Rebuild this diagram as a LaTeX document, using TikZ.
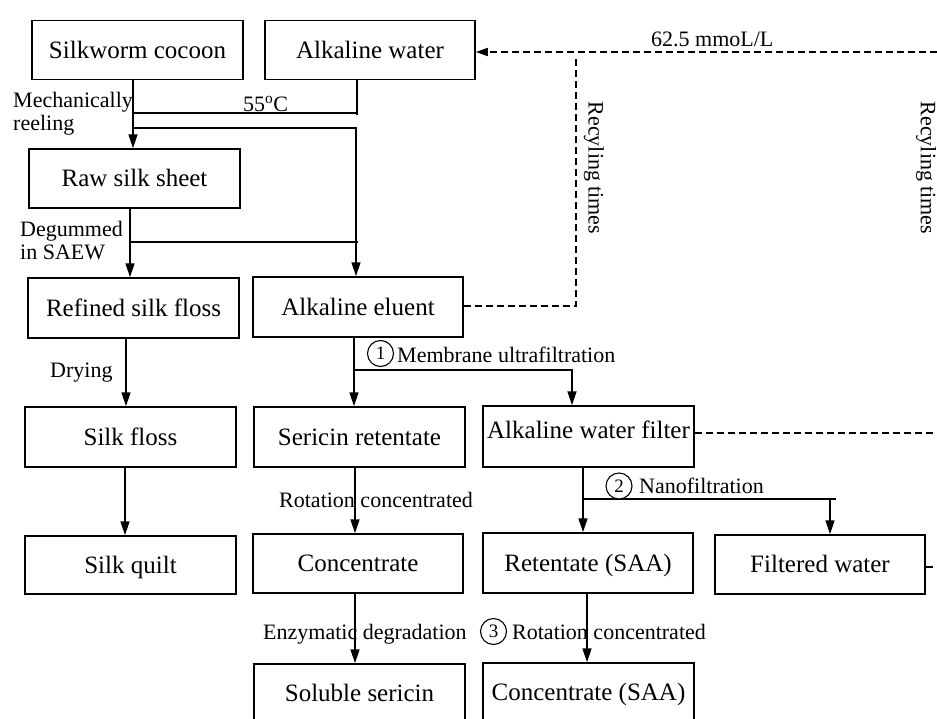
\documentclass[tikz,border=0pt]{standalone}
\usepackage{fontspec}
\setmainfont{Liberation Serif}
\usetikzlibrary{arrows.meta}
\begin{document}
\begin{tikzpicture}[x=1pt,y=-1pt,
 box/.style={draw,line width=1.5pt,inner sep=0pt,minimum width=211pt,minimum height=59pt,text height=18pt,text depth=2pt,font=\fontsize{25}{30}\selectfont},
 lbl/.style={inner sep=0pt,anchor=base west,font=\fontsize{22}{24}\selectfont},
 arr/.style={line width=1.5pt,-{Triangle[length=14pt,width=9pt]}},
 ln/.style={line width=1.5pt},
 dsh/.style={line width=1.5pt,dash pattern=on 7pt off 4pt},
 num/.style={circle,draw,line width=1.1pt,inner sep=0pt,minimum size=26pt,fill=white,font=\fontsize{19}{19}\selectfont},
 rot/.style={rotate=-90,inner sep=0pt,font=\fontsize{22}{24}\selectfont}
]
\useasboundingbox (0,0) rectangle (937,718);

% boxes
\node[box] (cocoon) at (137.5,50) {Silkworm cocoon};
\node[box,minimum width=210pt] (alkw) at (370,50) {Alkaline water};
\node[box] (raw) at (134.5,178.5) {Raw silk sheet};
\node[box,minimum height=60pt] (refined) at (133.5,308) {Refined silk floss};
\node[box,minimum width=210pt,minimum height=60pt] (eluent) at (358,307) {Alkaline eluent};
\node[box,minimum height=60pt] (floss) at (130.5,437) {Silk floss};
\node[box,minimum height=60pt] (serret) at (359.5,437) {Sericin retentate};
\node[box,minimum height=61pt,text depth=15pt] (awf) at (588.5,436.5) {Alkaline water filter};
\node[box,minimum height=58pt] (quilt) at (130.5,565) {Silk quilt};
\node[box,minimum width=210pt] (conc) at (358,563.5) {Concentrate};
\node[box,minimum width=210pt,minimum height=60pt] (ret) at (588,563) {Retentate (SAA)};
\node[box,minimum width=210pt] (filt) at (820,564.5) {Filtered water};
\node[box] (sol) at (359.5,693.5) {Soluble sericin};
\node[box] (concsaa) at (588.5,692.5) {Concentrate (SAA)};

% helper coordinates
\coordinate (c1) at (133,113);
\coordinate (c2) at (357,115);
\coordinate (c3) at (133,128);
\coordinate (c4) at (356,128);
\coordinate (c5) at (130,242);
\coordinate (c6) at (358,242);
\coordinate (c7) at (354,370);
\coordinate (c8) at (572,370);
\coordinate (c9) at (583,499);
\coordinate (c10) at (836,499);
\coordinate (c11) at (830,499);
\coordinate (c12) at (126,0);
\coordinate (c13) at (125,0);
\coordinate (c14) at (355,0);
\coordinate (c15) at (587,0);
\coordinate (d1) at (576,306);
\coordinate (d2) at (576,59);
\coordinate (e1) at (937,52);
\coordinate (e2) at (937,433);
\coordinate (e3) at (937,567);

% solid connectors
\draw[arr] (cocoon.south -| c1) -- (raw.north -| c1);
\draw[ln] (alkw.south -| c2) -- (c2);
\draw[ln] (c1) -- (c1 -| c2);
\draw[arr] (c3) -- (c4) -- (eluent.north -| c4);
\draw[arr] (raw.south -| c5) -- (refined.north -| c5);
\draw[ln] (c5) -- (c6);
\draw[arr] (refined.south -| c12) -- (floss.north -| c12);
\draw[arr] (floss.south -| c13) -- (quilt.north -| c13);
\draw[arr] (eluent.south -| c7) -- (serret.north -| c7);
\draw[arr] (c7) -- (c8) -- (awf.north -| c8);
\draw[arr] (serret.south -| c14) -- (conc.north -| c14);
\draw[arr] (conc.south -| c14) -- (sol.north -| c14);
\draw[arr] (awf.south -| c9) -- (ret.north -| c9);
\draw[ln] (c9) -- (c10);
\draw[arr] (c11) -- (filt.north -| c11);
\draw[arr] (ret.south -| c15) -- (concsaa.north -| c15);

% dashed connectors
\draw[dsh] (eluent.east |- d1) -- (d1) -- (d2);
\draw[dsh,-{Triangle[length=12pt,width=8pt]}] (e1) -- (alkw.east |- e1);
\draw[dsh] (awf.east |- e2) -- (e2);
\draw[dsh] (filt.east |- e3) -- (e3);

% labels
\node[lbl] (l1) at (13,107) {Mechanically};
\node[lbl] (l2) at (13,130) {reeling};
\node[lbl] (l3) at (243,111) {55\textsuperscript{o}C};
\node[lbl] (l4) at (20,236) {Degummed};
\node[lbl] (l5) at (20,259) {in SAEW};
\node[lbl] (l6) at (50,377) {Drying};
\node[num] (n1) at (380.5,353.5) {1};
\node[lbl] (l7) at (397,362) {Membrane ultrafiltration};
\node[lbl] (l8) at (279,507) {Rotation concentrated};
\node[num] (n2) at (619,486) {2};
\node[lbl] (l9) at (639,493) {Nanofiltration};
\node[lbl] (l10) at (263,639) {Enzymatic degradation};
\node[num] (n3) at (493.5,631.5) {3};
\node[lbl] (l11) at (512,639) {Rotation concentrated};
\node[lbl] (l12) at (651,46) {62.5 mmoL/L};
\node[rot] (r1) at (594,168) {Recyling times};
\node[rot] (r2) at (926,168) {Recyling times};
\end{tikzpicture}
\end{document}
